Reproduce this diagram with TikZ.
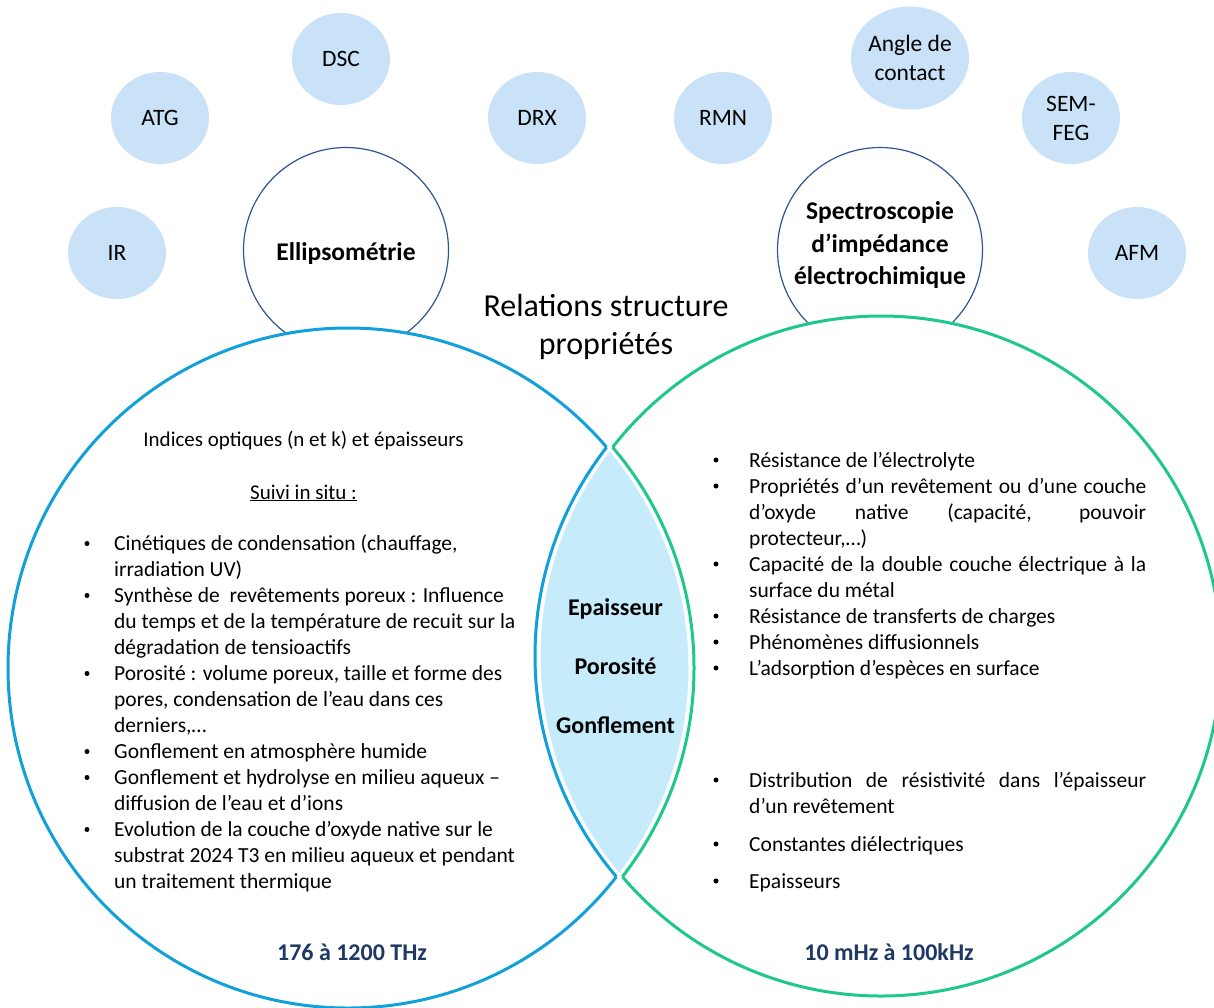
\documentclass[tikz,border=0pt]{standalone}
\usepackage{fontspec}
\setmainfont{Carlito}
\usetikzlibrary{shapes.geometric}
\definecolor{bigblue}{RGB}{18,160,218}
\definecolor{biggreen}{RGB}{30,200,140}
\definecolor{lensfill}{RGB}{198,236,251}
\definecolor{techfill}{RGB}{201,226,248}
\definecolor{methborder}{RGB}{47,84,150}
\definecolor{freqcol}{RGB}{31,56,100}
\begin{document}
\begin{tikzpicture}[x=1pt,y=-1pt,
  tech/.style={ellipse, fill=techfill, draw=none, minimum width=98pt, minimum height=92pt,
    inner sep=0pt, align=center, font=\fontsize{23.5}{29}\selectfont},
  meth/.style={circle, draw=methborder, line width=1.2pt, fill=white, minimum size=205pt, inner sep=0pt},
  methtxt/.style={inner sep=0pt, align=center, font=\bfseries\fontsize{25.5}{32.5}\selectfont},
  item/.style={anchor=base west, inner sep=0pt, font=\fontsize{21.5}{26}\selectfont},
  bul/.style={anchor=base, inner sep=0pt, font=\fontsize{21.5}{26}\selectfont},
  dot/.style={circle, fill=black, inner sep=0pt, minimum size=5pt},
  lenstxt/.style={anchor=base, inner sep=0pt, font=\bfseries\fontsize{24}{29}\selectfont},
  freq/.style={anchor=base, inner sep=0pt, text=freqcol, font=\bfseries\fontsize{24}{29}\selectfont},
  bigline/.style={line width=3pt}]
\useasboundingbox (0,0) rectangle (1214,1007);
\fill[white] (0,0) rectangle (1214,1007);
\def\cA{351,668}
\def\cB{878,656}
\def\R{340pt}
% technique circles
\node[tech] (ir) at (117,253) {IR};
\node[tech] (atg) at (160,118) {ATG};
\node[tech] (dsc) at (341,59) {DSC};
\node[tech] (drx) at (537,118) {DRX};
\node[tech] (rmn) at (723,118) {RMN};
\node[tech, minimum width=101pt, minimum height=103pt] (angle) at (910,58) {Angle de\\contact};
\node[tech] (sem) at (1071,118) {SEM-\\FEG};
\node[tech] (afm) at (1137,253) {AFM};
% method circles
\node[meth] (ellc) at (346,250) {};
\node[meth] (eisc) at (880,250) {};
\node[methtxt, anchor=base] (elltxt) at (346,260) {Ellipsométrie};
\node[methtxt] (eistxt) at (880,245.5) {Spectroscopie\\d’impédance\\électrochimique};
% big circles white fills
\fill[white] (\cA) circle[radius=\R];
\fill[white] (\cB) circle[radius=\R];
% lens
\begin{scope}
  \clip (\cA) circle[radius=\R];
  \fill[lensfill] (\cB) circle[radius=\R];
\end{scope}
\begin{scope}
  \clip (\cA) circle[radius=\R];
  \draw[white, line width=5pt] (\cB) circle[radius=\R];
\end{scope}
\begin{scope}
  \clip (\cB) circle[radius=\R];
  \draw[white, line width=5pt] (\cA) circle[radius=\R];
\end{scope}
% left fragment outline (blue)
\begin{scope}[xshift=-3pt]
  \begin{scope}[even odd rule]
    \clip (-100,-100) rectangle (1400,1200) (\cB) circle[radius=\R];
    \draw[bigblue, bigline] (\cA) circle[radius=\R];
  \end{scope}
  \begin{scope}
    \clip (\cA) circle[radius=\R];
    \draw[bigblue, bigline] (\cB) circle[radius=\R];
  \end{scope}
\end{scope}
% right fragment outline (green)
\begin{scope}[xshift=3pt]
  \begin{scope}[even odd rule]
    \clip (-100,-100) rectangle (1400,1200) (\cA) circle[radius=\R];
    \draw[biggreen, bigline] (\cB) circle[radius=\R];
  \end{scope}
  \begin{scope}
    \clip (\cB) circle[radius=\R];
    \draw[biggreen, bigline] (\cA) circle[radius=\R];
  \end{scope}
\end{scope}
% title
\node[inner sep=0pt, align=center, font=\fontsize{32}{38}\selectfont] (title) at (606,327) {Relations structure\\propriétés};
% lens labels
\node[lenstxt] (ep) at (615.5,615) {Epaisseur};
\node[lenstxt] (po) at (615.5,674) {Porosité};
\node[lenstxt] (go) at (615.5,733) {Gonflement};
% left text
\node[bul, font=\fontsize{21}{26}\selectfont] (lh1) at (303.5,446) {Indices optiques (n et k) et épaisseurs};
\node[bul, font=\fontsize{21}{26}\selectfont] (lh2) at (303.5,499) {\underline{Suivi in situ :}};
\node[dot] (lb1) at (87,543.5) {};
\node[dot] (lb2) at (87,595.5) {};
\node[dot] (lb3) at (87,673.5) {};
\node[dot] (lb4) at (87,751.5) {};
\node[dot] (lb5) at (87,777.5) {};
\node[dot] (lb6) at (87,829.5) {};
\node[item] (l1) at (114,550.5) {Cinétiques de condensation (chauffage,};
\node[item] (l2) at (114,576.5) {irradiation UV)};
\node[item] (l3) at (114,602.5) {Synthèse de\ \ revêtements poreux : Influence};
\node[item] (l4) at (114,628.5) {du temps et de la température de recuit sur la};
\node[item] (l5) at (114,654.5) {dégradation de tensioactifs};
\node[item] (l6) at (114,680.5) {Porosité : volume poreux, taille et forme des};
\node[item] (l7) at (114,706.5) {pores, condensation de l’eau dans ces};
\node[item] (l8) at (114,732.5) {derniers,…};
\node[item] (l9) at (114,758.5) {Gonflement en atmosphère humide};
\node[item] (l10) at (114,784.5) {Gonflement et hydrolyse en milieu aqueux –};
\node[item] (l11) at (114,810.5) {diffusion de l’eau et d’ions};
\node[item] (l12) at (114,836.5) {Evolution de la couche d’oxyde native sur le};
\node[item] (l13) at (114,862.5) {substrat 2024 T3 en milieu aqueux et pendant};
\node[item] (l14) at (114,888.5) {un traitement thermique};
% right text
\node[dot] (rb1) at (716,460) {};
\node[dot] (rb2) at (716,486) {};
\node[dot] (rb3) at (716,564) {};
\node[dot] (rb4) at (716,616) {};
\node[dot] (rb5) at (716,642) {};
\node[dot] (rb6) at (716,668) {};
\node[dot] (rb7) at (716,780) {};
\node[dot] (rb8) at (716,844) {};
\node[dot] (rb9) at (716,881) {};
\node[item] (r1) at (749,467) {Résistance de l’électrolyte};
\node[item] (r2) at (749,493) {\makebox[397pt][s]{Propriétés d’un revêtement ou d’une couche}};
\node[item] (r3) at (749,519) {\makebox[397pt][s]{d’oxyde native (capacité, pouvoir}};
\node[item] (r4) at (749,545) {protecteur,…)};
\node[item] (r5) at (749,571) {\makebox[397pt][s]{Capacité de la double couche électrique à la}};
\node[item] (r6) at (749,597) {surface du métal};
\node[item] (r7) at (749,623) {Résistance de transferts de charges};
\node[item] (r8) at (749,649) {Phénomènes diffusionnels};
\node[item] (r9) at (749,675) {L’adsorption d’espèces en surface};
\node[item] (r10) at (749,787) {\makebox[397pt][s]{Distribution de résistivité dans l’épaisseur}};
\node[item] (r11) at (749,813) {d’un revêtement};
\node[item] (r12) at (749,851) {Constantes diélectriques};
\node[item] (r13) at (749,888) {Epaisseurs};
% frequency labels
\node[freq] (f1) at (352,960) {176 à 1200 THz};
\node[freq] (f2) at (889,960) {10 mHz à 100kHz};
\end{tikzpicture}
\end{document}
